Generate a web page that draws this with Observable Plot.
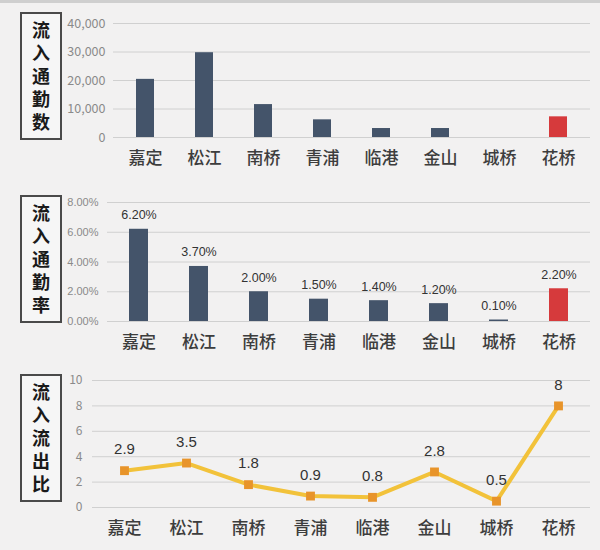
<!DOCTYPE html>
<html>
<head>
<meta charset="utf-8">
<script src="https://cdn.jsdelivr.net/npm/d3@7"></script>
<script src="https://cdn.jsdelivr.net/npm/@observablehq/plot@0.6"></script>
<style>
  html, body { margin: 0; padding: 0; background: #f2f1f1; }
  #wrap { position: relative; width: 600px; height: 550px; background: #f2f1f1; border-top: 3px solid #cfcfcf; box-sizing: border-box; overflow: hidden; font-family: "Noto Sans CJK SC", "Noto Sans", sans-serif; }
  .panel { position: absolute; left: 0; width: 600px; }
  .lbl { position: absolute; left: 20px; width: 38px; border: 2px solid #4a4a4a; background: #f6f6f6; box-sizing: content-box;
         display: flex; align-items: center; justify-content: center; }
  .lbl span { writing-mode: vertical-rl; text-orientation: upright; letter-spacing: 5px;
         font-family: "Noto Sans CJK SC", sans-serif; font-weight: 700; font-size: 18px; line-height: 1; color: #1a1a1a; margin-top: 5px; }
</style>
</head>
<body>
<div id="wrap">
  <div class="panel" id="p1" style="top:-4px"></div>
  <div class="panel" id="p2" style="top:176px"></div>
  <div class="panel" id="p3" style="top:356px"></div>
</div>
<script>
const categories = ["嘉定", "松江", "南桥", "青浦", "临港", "金山", "城桥", "花桥"];
const commuters = [20400, 29750, 11550, 6200, 3150, 3150, 0, 7250];
const commuteRates = [6.2, 3.7, 2.0, 1.5, 1.4, 1.2, 0.1, 2.2];
const inOutRatio = [2.9, 3.5, 1.8, 0.9, 0.8, 2.8, 0.5, 8];
const highlight = "花桥";
const panelTitles = ["流入通勤数", "流入通勤率", "流入流出比"];
const ticks1 = [0, 10000, 20000, 30000, 40000];
const ticks2 = [0, 2, 4, 6, 8];
const ticks3 = [0, 2, 4, 6, 8, 10];

const barColor = "#44546a";
const redColor = "#d63a3c";
const font = "'Noto Sans CJK SC', sans-serif";

const rows1 = categories.map((c, i) => ({cat: c, v: commuters[i]}));
const rows2 = categories.map((c, i) => ({cat: c, v: commuteRates[i]}));
const rows3 = categories.map((c, i) => ({cat: c, v: inOutRatio[i]}));

function xAxis() {
  return Plot.axisX({tickSize: 0, tickPadding: 14, fontSize: 17, fill: "#3d3d3d", label: null, fontWeight: 500});
}

const p1 = Plot.plot({
  width: 600, height: 178,
  marginLeft: 113, marginRight: 10, marginTop: 24, marginBottom: 40,
  style: {fontFamily: font, background: "transparent", overflow: "visible"},
  x: {domain: categories, paddingInner: 0.69, paddingOuter: 0.345, label: null},
  y: {domain: [0, 40000], label: null},
  marks: [
    Plot.gridY(ticks1, {stroke: "#d0d0d0", strokeOpacity: 1, strokeWidth: 1}),
    Plot.barY(rows1, {x: "cat", y: "v", fill: d => d.cat === highlight ? redColor : barColor}),
    Plot.axisY(ticks1, {tickSize: 0, tickPadding: 8, tickFormat: d3.format(","), fontSize: 12.5, fill: "#8a8a8a", label: null}),
    xAxis()
  ]
});
document.getElementById("p1").appendChild(p1);

const p2 = Plot.plot({
  width: 600, height: 182,
  marginLeft: 107, marginRight: 10, marginTop: 23, marginBottom: 40,
  style: {fontFamily: font, background: "transparent", overflow: "visible"},
  x: {domain: categories, paddingInner: 0.69, paddingOuter: 0.345, label: null},
  y: {domain: [0, 8], label: null},
  marks: [
    Plot.gridY(ticks2, {stroke: "#d0d0d0", strokeOpacity: 1, strokeWidth: 1}),
    Plot.barY(rows2, {x: "cat", y: "v", fill: d => d.cat === highlight ? redColor : barColor}),
    Plot.text(rows2, {x: "cat", y: "v", text: d => d.v.toFixed(2) + "%", dy: -14, fontSize: 12.5, fill: "#333", fontFamily: "'Liberation Sans', sans-serif"}),
    Plot.axisY(ticks2, {tickSize: 0, tickPadding: 9, tickFormat: d => d.toFixed(2) + "%", fontSize: 11, fill: "#8a8a8a", label: null, fontFamily: "'Liberation Sans Narrow', 'Liberation Sans', sans-serif"}),
    xAxis()
  ]
});
document.getElementById("p2").appendChild(p2);

const p3 = Plot.plot({
  width: 600, height: 188,
  marginLeft: 92, marginRight: 10, marginTop: 21, marginBottom: 40,
  style: {fontFamily: font, background: "transparent", overflow: "visible"},
  x: {type: "point", domain: categories, padding: 0.5, label: null},
  y: {domain: [0, 10], label: null},
  marks: [
    Plot.gridY(ticks3, {stroke: "#d0d0d0", strokeOpacity: 1, strokeWidth: 1}),
    Plot.lineY(rows3, {x: "cat", y: "v", stroke: "#f2c23a", strokeWidth: 4, curve: "linear"}),
    Plot.dot(rows3, {x: "cat", y: "v", symbol: "square", r: 5, fill: "#e8942a", stroke: "none"}),
    Plot.text(rows3, {x: "cat", y: "v", text: d => String(d.v), dy: -21, fontSize: 15, fill: "#333", fontFamily: "'Liberation Sans', sans-serif"}),
    Plot.axisY(ticks3, {tickSize: 0, tickPadding: 10, fontSize: 12, fill: "#8a8a8a", label: null}),
    xAxis()
  ]
});
document.getElementById("p3").appendChild(p3);

// Vertical title boxes
const boxes = [{top: 9, h: 124}, {top: 192, h: 124}, {top: 371, h: 124}];
const wrap = document.getElementById("wrap");
panelTitles.forEach((t, i) => {
  const d = document.createElement("div");
  d.className = "lbl";
  d.style.top = boxes[i].top + "px";
  d.style.height = boxes[i].h + "px";
  const s = document.createElement("span");
  s.textContent = t;
  d.appendChild(s);
  wrap.appendChild(d);
});
</script>
</body>
</html>
